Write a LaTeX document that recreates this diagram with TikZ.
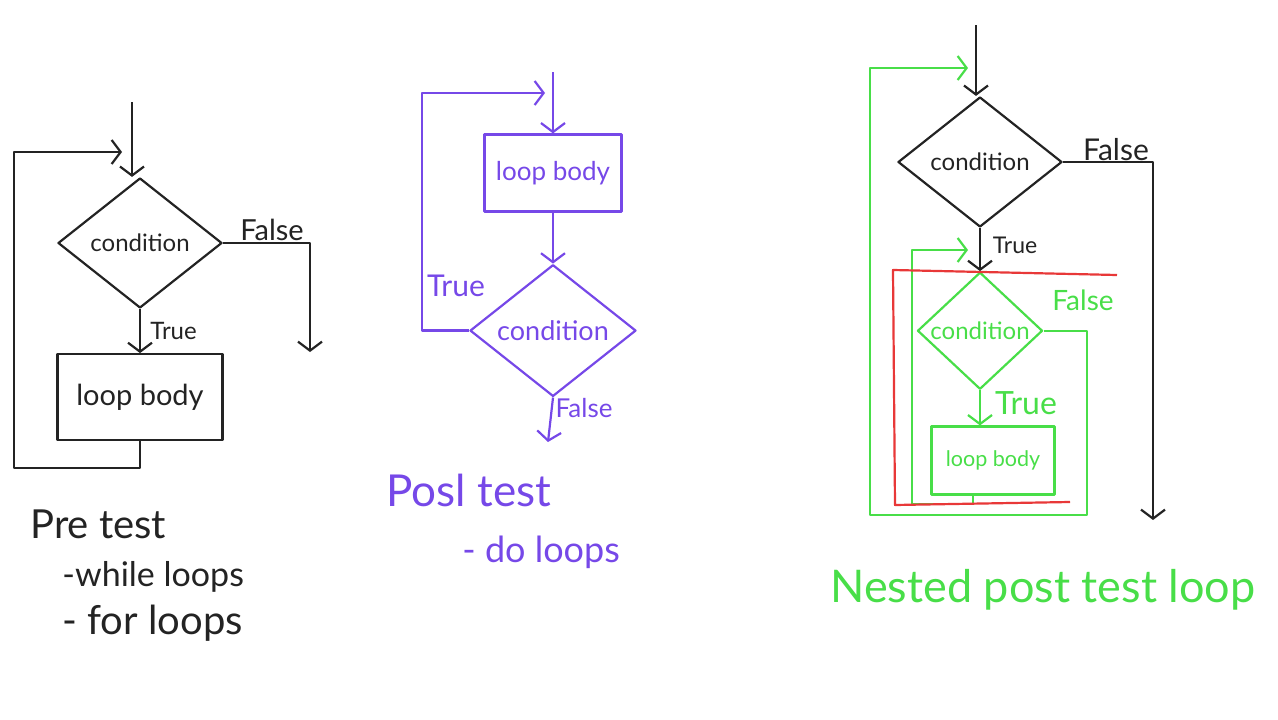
\documentclass[tikz,border=0pt]{standalone}
\usepackage{fontspec}
\setmainfont{Lato}
\usetikzlibrary{arrows.meta,positioning,shapes.geometric}

\definecolor{ink}{RGB}{35,35,35}
\definecolor{penpurple}{RGB}{118,72,232}
\definecolor{pengreen}{RGB}{72,222,72}
\definecolor{penred}{RGB}{232,56,56}

\begin{document}
\begin{tikzpicture}[x=1pt, y=-1pt, >={Straight Barb[length=9pt,width=24pt]}, line width=2.2pt, line join=round,
  cond/.style={diamond, draw, inner sep=0pt, minimum width=164pt, minimum height=130pt, font=\fontsize{24}{26}\selectfont},
  body/.style={rectangle, draw, minimum width=165pt, minimum height=86pt, font=\fontsize{29}{32}\selectfont},
  lbl/.style={font=\fontsize{24}{26}\selectfont},
  note/.style={anchor=west, font=\fontsize{34}{38}\selectfont}]
\useasboundingbox (0,0) rectangle (1278,720);

% pre test
\begin{scope}[ink, draw=ink]
\coordinate (in1) at (132,102);
\node[cond] (cond1) at (140,243) {condition};
\node[body, below=44pt of cond1] (body1) {loop body};
\coordinate (out1) at (310,352);
\coordinate (back1) at (14,152);
\coordinate (ret1) at (122,152);
\draw[->] (in1) -- (in1 |- cond1.north);
\draw[->] (cond1.south) -- node[lbl, right=6pt] (t1) {True} (body1.north);
\draw[->] (cond1.east) -| (out1);
\node[lbl, font=\fontsize{29}{30}\selectfont] (f1) at (272,230) {False};
\draw[->] (body1.south) -- ++(0,27) -| (back1) -- (ret1);
\node[note, font=\fontsize{40}{44}\selectfont] (pre) at (26,524) {Pre test};
\node[note] (while) at (58,577) {-while loops};
\node[note, font=\fontsize{40}{44}\selectfont] (for) at (58,623) {- for loops};
\end{scope}

% post test
\begin{scope}[penpurple, draw=penpurple]
\coordinate (in2) at (553,72);
\node[body, minimum width=137pt, minimum height=77pt, font=\fontsize{26}{28}\selectfont] (body2) at (553,173) {loop body};
\node[cond, minimum width=166pt, minimum height=117pt, font=\fontsize{27}{28}\selectfont, below=51pt of body2] (cond2) {condition};
\coordinate (back2) at (422,93);
\coordinate (ret2) at (545,93);
\coordinate (out2) at (548,442);
\draw[->] (in2) -- (body2.north);
\draw[->] (body2.south) -- (cond2.north);
\draw[->] (cond2.west) -| (back2) -- (ret2);
\node[lbl, font=\fontsize{30}{32}\selectfont] (t2) at (456,286) {True};
\draw[->] (cond2.south) -- (out2);
\node[lbl, font=\fontsize{26}{28}\selectfont] (f2) at (584,408) {False};
\node[note, font=\fontsize{44}{48}\selectfont] (post) at (382,490) {Posl test};
\node[note, font=\fontsize{36}{40}\selectfont] (do) at (458,552) {- do loops};
\end{scope}

% nested post test
\coordinate (in3) at (976,25);
\node[cond, draw=ink, text=ink] (cond3) at (980,162) {condition};
\node[cond, draw=pengreen, text=pengreen, minimum width=125pt, minimum height=117pt, below=43pt of cond3] (cond4) {condition};
\node[body, draw=pengreen, text=pengreen, minimum width=123pt, minimum height=68pt, font=\fontsize{21.5}{23}\selectfont, below=35pt of cond4, xshift=13pt] (body4) {loop body};
\coordinate (out3) at (1153,520);
\coordinate (c4a) at (1087,515);
\coordinate (c4b) at (870,68);
\coordinate (ret3) at (968,68);
\coordinate (c5) at (912,250);
\coordinate (ret4) at (968,250);
\draw[->, ink] (in3) -- (in3 |- cond3.north);
\draw[->, ink] (cond3.east) -| (out3);
\node[lbl, ink, font=\fontsize{30}{32}\selectfont] (f3) at (1116,150) {False};
\draw[->, ink] (cond3.south) -- (cond4.north);
\node[lbl, ink, font=\fontsize{23}{25}\selectfont] (t3) at (1015,245) {True};
\draw[->, pengreen] (cond4.south) -- (cond4.south |- body4.north);
\node[lbl, pengreen, font=\fontsize{32}{34}\selectfont] (t4) at (1026,403) {True};
\draw[->, pengreen] (cond4.east) -| (c4a) -| (c4b) -- (ret3);
\node[lbl, pengreen, font=\fontsize{28}{30}\selectfont] (f4) at (1083,300) {False};
\draw[->, pengreen] ([xshift=-20pt]body4.south) -- ++(0,8) -| (c5) -- (ret4);
\draw[penred] (1117,275) -- (893,270) -- (895,505) -- (1070,502);
\node[note, pengreen, font=\fontsize{45}{50}\selectfont] (nested) at (826,590) {Nested post test loop};
\end{tikzpicture}
\end{document}
